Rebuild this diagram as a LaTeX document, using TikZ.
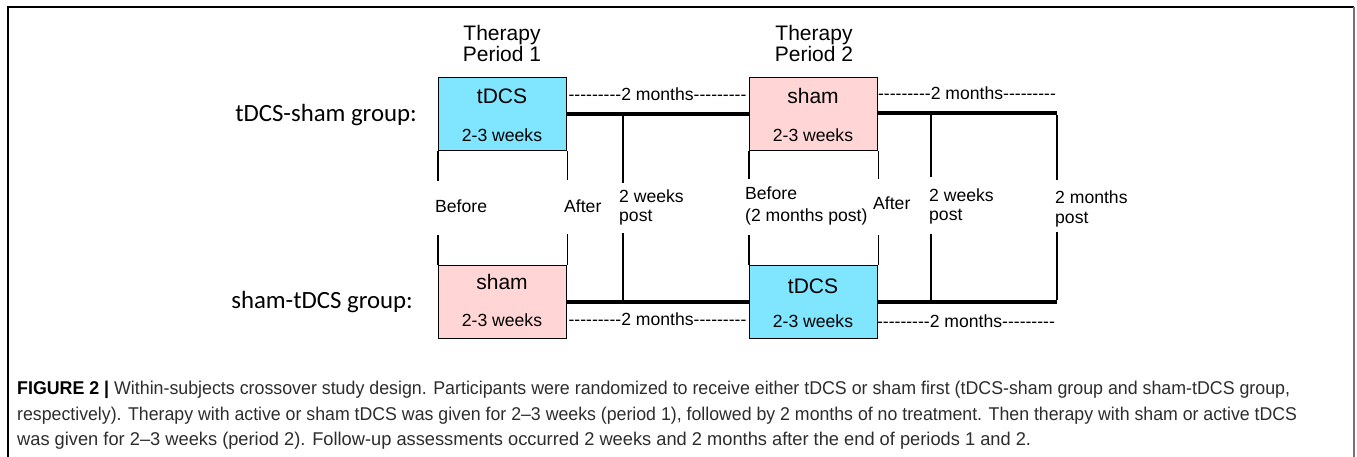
\documentclass[tikz,border=0pt]{standalone}
\usepackage{fontspec}
\setmainfont{Liberation Sans}
\newfontfamily\grpfont{Carlito}
\usepackage{graphicx}
\definecolor{tcyan}{RGB}{128,229,255}
\definecolor{tpink}{RGB}{255,213,213}
\definecolor{captxt}{RGB}{45,45,45}
\newsavebox\capA
\newsavebox\capB
\newsavebox\capC
\newlength\capw
\newcommand\hyrun{-{}-{}-{}-{}-{}-{}-{}-{}-}
\begin{document}
\sbox\capA{\fontsize{18.5}{20}\selectfont\color{captxt}\textbf{\color{black}FIGURE 2 |} Within-subjects crossover study design. Participants were randomized to receive either tDCS or sham first (tDCS-sham group and sham-tDCS group,}%
\sbox\capB{\fontsize{18.5}{20}\selectfont\color{captxt}respectively). Therapy with active or sham tDCS was given for 2–3 weeks (period 1), followed by 2 months of no treatment. Then therapy with sham or active tDCS}%
\sbox\capC{\fontsize{18.5}{20}\selectfont\color{captxt}was given for 2–3 weeks (period 2). Follow-up assessments occurred 2 weeks and 2 months after the end of periods 1 and 2.}%
\setlength\capw{\wd\capA}%
\pgfmathsetmacro\capfacA{1273/\capw}%
\setlength\capw{\wd\capB}%
\pgfmathsetmacro\capfacB{1280/\capw}%
\setlength\capw{\wd\capC}%
\pgfmathsetmacro\capfacC{1014/\capw}%
\begin{tikzpicture}[x=1pt,y=-1pt,
  lab/.style={font=\fontsize{17.6}{20}\selectfont, inner sep=0},
  big/.style={font=\fontsize{21}{24}\selectfont, inner sep=0},
  grp/.style={font=\grpfont\fontsize{24.8}{28}\selectfont, inner sep=0},
  tbox/.style={draw=black, line width=1.1pt, minimum width=128pt, minimum height=73pt, inner sep=0, anchor=north west},
  tick/.style={line width=1.1pt},
  bar/.style={line width=3.2pt},
  frame/.style={line width=1.3pt},
]
\useasboundingbox (0,0) rectangle (1357,457);
\fill[white] (0,0) rectangle (1357,457);
% frame
\coordinate (f1) at (8,457);
\coordinate (f2) at (8,7);
\coordinate (f3) at (1354,7);
\coordinate (f4) at (1354,457);
\draw[frame] (f1) -- (f2) -- (f3);
\draw[line width=2pt, black!55] (f3) -- (f4);
% headings
\node[big, anchor=base] (h1a) at (502,41) {Therapy};
\node[big, anchor=base] (h1b) at (502,62) {Period 1};
\node[big, anchor=base] (h2a) at (814,41) {Therapy};
\node[big, anchor=base] (h2b) at (814,62) {Period 2};
% group labels
\node[grp, anchor=base east] (g1) at (417,122) {tDCS-sham group:};
\node[grp, anchor=base east] (g2) at (413,308) {sham-tDCS group:};
% boxes
\node[tbox, fill=tcyan] (b1) at (438,77) {};
\node[tbox, fill=tpink] (b2) at (749,77) {};
\node[tbox, fill=tpink] (b3) at (438,265) {};
\node[tbox, fill=tcyan] (b4) at (749,265) {};
\node[big] (t1) at (502,96) {tDCS};
\node[lab] (w1) at (502,135) {2-3 weeks};
\node[big] (t2) at (813,96) {sham};
\node[lab] (w2) at (813,135) {2-3 weeks};
\node[big] (t3) at (502,282) {sham};
\node[lab] (w3) at (502,320) {2-3 weeks};
\node[big] (t4) at (813,286) {tDCS};
\node[lab] (w4) at (813,321) {2-3 weeks};
% top timeline
\coordinate (A1) at (566,114);
\coordinate (A2) at (623,114);
\coordinate (A3) at (749,114);
\coordinate (A4) at (877,113);
\coordinate (A5) at (931,113);
\coordinate (A6) at (1057,113);
\draw[bar] (A1) -- (A3);
\draw[bar] (A4) -- (A6);
\draw[tick] (b1.south west) -- ++(0,30);
\draw[tick] (b1.south east) -- ++(0,29);
\draw[tick] (A2) -- ++(0,69);
\draw[tick] (b2.south west) -- ++(0,28);
\draw[tick] (b2.south east) -- ++(0,28);
\draw[tick] (A5) -- ++(0,64);
\draw[tick] ([yshift=-1.6pt]A6) -- ++(0,65);
% bottom timeline
\coordinate (B1) at (566,302);
\coordinate (B2) at (623,302);
\coordinate (B3) at (749,302);
\coordinate (B4) at (877,302);
\coordinate (B5) at (931,302);
\coordinate (B6) at (1057,302);
\draw[bar] (B1) -- (B3);
\draw[bar] (B4) -- (B6);
\draw[tick] (b3.north west) -- ++(0,-30);
\draw[tick] (b3.north east) -- ++(0,-31);
\draw[tick] (B2) -- ++(0,-69);
\draw[tick] (b4.north west) -- ++(0,-30);
\draw[tick] (b4.north east) -- ++(0,-30);
\draw[tick] (B5) -- ++(0,-68);
\draw[tick] ([yshift=1.6pt]B6) -- ++(0,-68);
% month labels
\node[lab] (m1) at (657.5,94) {\hyrun2 months\hyrun};
\node[lab] (m2) at (967,93) {\hyrun2 months\hyrun};
\node[lab] (m3) at (657.5,319) {\hyrun2 months\hyrun};
\node[lab] (m4) at (966,321) {\hyrun2 months\hyrun};
% time point labels
\node[lab, anchor=base west] (l1) at (435,212) {Before};
\node[lab, anchor=base west] (l2) at (564,212) {After};
\node[lab, anchor=base west] (l3a) at (619,203) {2 weeks};
\node[lab, anchor=base west] (l3b) at (619,222) {post};
\node[lab, anchor=base west] (l4a) at (745,200) {Before};
\node[lab, anchor=base west] (l4b) at (745,222) {(2 months post)};
\node[lab, anchor=base west] (l5) at (873,210) {After};
\node[lab, anchor=base west] (l6a) at (929,202) {2 weeks};
\node[lab, anchor=base west] (l6b) at (929,221) {post};
\node[lab, anchor=base west] (l7a) at (1055,204) {2 months};
\node[lab, anchor=base west] (l7b) at (1055,223) {post};
% caption
\node[anchor=base west, inner sep=0] (c1) at (17,394) {\scalebox{\capfacA}[1]{\usebox\capA}};
\node[anchor=base west, inner sep=0] (c2) at (17,420) {\scalebox{\capfacB}[1]{\usebox\capB}};
\node[anchor=base west, inner sep=0] (c3) at (17,445) {\scalebox{\capfacC}[1]{\usebox\capC}};
\end{tikzpicture}
\end{document}
